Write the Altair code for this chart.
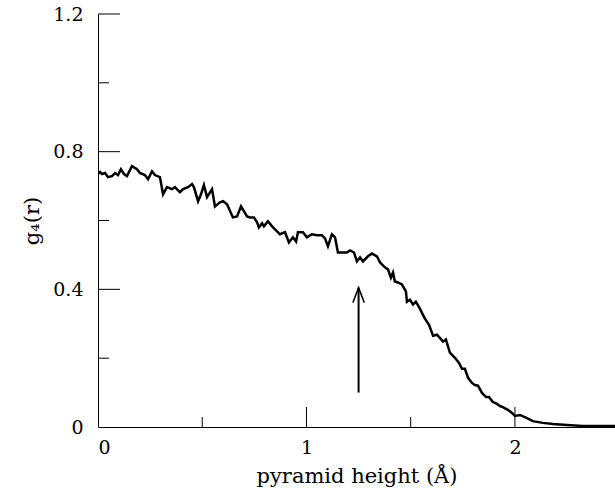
import altair as alt
import pandas as pd

# pyramid height (Å) and g4(r)
height_A = [0.000, 0.010, 0.019, 0.034, 0.048, 0.067, 0.082, 0.096, 0.110, 0.125,
            0.139, 0.163, 0.187, 0.201, 0.225, 0.240, 0.259, 0.273, 0.297, 0.312,
            0.331, 0.355, 0.369, 0.393, 0.408, 0.432, 0.451, 0.460, 0.480, 0.494,
            0.508, 0.523, 0.547, 0.561, 0.585, 0.600, 0.619, 0.647, 0.667, 0.686,
            0.715, 0.729, 0.748, 0.763, 0.772, 0.787, 0.796, 0.815, 0.835, 0.873,
            0.897, 0.916, 0.935, 0.950, 0.959, 0.983, 1.002, 1.026, 1.050, 1.074,
            1.089, 1.103, 1.122, 1.137, 1.151, 1.170, 1.194, 1.209, 1.228, 1.242,
            1.257, 1.271, 1.295, 1.314, 1.338, 1.353, 1.376, 1.391, 1.405, 1.415,
            1.424, 1.439, 1.458, 1.477, 1.482, 1.496, 1.511, 1.525, 1.544, 1.568,
            1.588, 1.607, 1.626, 1.640, 1.655, 1.669, 1.688, 1.712, 1.731, 1.746,
            1.760, 1.775, 1.794, 1.808, 1.823, 1.842, 1.861, 1.875, 1.894, 1.914,
            1.928, 1.942, 1.966, 1.986, 2.000, 2.024, 2.058, 2.086, 2.134, 2.182,
            2.249, 2.326, 2.408, 2.480]
g4 = [0.735, 0.741, 0.735, 0.738, 0.726, 0.729, 0.738, 0.732, 0.749, 0.735,
      0.729, 0.758, 0.749, 0.738, 0.732, 0.720, 0.743, 0.732, 0.726, 0.676,
      0.697, 0.691, 0.697, 0.682, 0.691, 0.697, 0.706, 0.697, 0.656, 0.676,
      0.703, 0.668, 0.691, 0.641, 0.653, 0.656, 0.647, 0.609, 0.612, 0.641,
      0.612, 0.609, 0.609, 0.595, 0.580, 0.592, 0.583, 0.598, 0.583, 0.560,
      0.566, 0.536, 0.551, 0.539, 0.566, 0.566, 0.551, 0.560, 0.557, 0.557,
      0.548, 0.525, 0.560, 0.551, 0.507, 0.507, 0.507, 0.513, 0.507, 0.481,
      0.493, 0.481, 0.496, 0.504, 0.496, 0.478, 0.464, 0.458, 0.434, 0.449,
      0.423, 0.420, 0.414, 0.394, 0.364, 0.370, 0.356, 0.364, 0.344, 0.315,
      0.297, 0.265, 0.268, 0.259, 0.248, 0.254, 0.216, 0.201, 0.187, 0.169,
      0.169, 0.143, 0.128, 0.122, 0.120, 0.099, 0.087, 0.087, 0.073, 0.067,
      0.061, 0.058, 0.050, 0.041, 0.032, 0.035, 0.026, 0.017, 0.012, 0.009,
      0.006, 0.003, 0.003, 0.003]

# arrow annotation
arrow_x = [1.25]
arrow_y0 = [0.10]
arrow_y1 = [0.405]

# tick positions / labels
x_labels = [0, 1, 2]
x_major = [1, 2]
x_minor = [0.5, 1.5]
y_labels = [0, 0.4, 0.8, 1.2]
y_major = [0.4, 0.8, 1.2]
y_minor = [0.2, 0.6, 1.0]

W, H = 517, 413
FONT = "DejaVu Serif"

df = pd.DataFrame({"h": height_A, "g": g4})
xs = alt.Scale(domain=[0, 2.48], nice=False, zero=False)
ys = alt.Scale(domain=[0, 1.2], nice=False)

line = alt.Chart(df).mark_line(color="black", strokeWidth=2.5, clip=True).encode(
    x=alt.X("h:Q", scale=xs,
            axis=alt.Axis(values=x_labels, format="d", ticks=False, grid=False,
                          domainColor="black", domainWidth=1, labelPadding=11,
                          labelFont=FONT, labelFontSize=19, labelColor="black",
                          title="pyramid height (Å)", titleFont=FONT, titleFontSize=21,
                          titleFontWeight="normal", titleColor="black", titlePadding=8)),
    y=alt.Y("g:Q", scale=ys,
            axis=alt.Axis(values=y_labels,
                          labelExpr="datum.value == 0 ? '0' : format(datum.value, '.1f')",
                          ticks=False, grid=False, domainColor="black",
                          domainWidth=1, labelPadding=15, labelFont=FONT,
                          labelFontSize=19, labelColor="black",
                          title="g₄(r)", titleFont=FONT, titleFontSize=21,
                          titleFontWeight="normal", titleColor="black", titlePadding=10)),
)

ymaj = alt.Chart(pd.DataFrame({"v": y_major})).mark_rule(color="black", strokeWidth=1).encode(
    y=alt.Y("v:Q", scale=ys), x=alt.value(0), x2=alt.value(22))
ymin = alt.Chart(pd.DataFrame({"v": y_minor})).mark_rule(color="black", strokeWidth=1).encode(
    y=alt.Y("v:Q", scale=ys), x=alt.value(0), x2=alt.value(11))
xmaj = alt.Chart(pd.DataFrame({"v": x_major})).mark_rule(color="black", strokeWidth=1).encode(
    x=alt.X("v:Q", scale=xs), y=alt.value(H), y2=alt.value(H - 20))
xmin = alt.Chart(pd.DataFrame({"v": x_minor})).mark_rule(color="black", strokeWidth=1).encode(
    x=alt.X("v:Q", scale=xs), y=alt.value(H), y2=alt.value(H - 10))

adf = pd.DataFrame({"x": arrow_x, "y0": arrow_y0, "y1": arrow_y1})
shaft = alt.Chart(adf).mark_rule(color="black", strokeWidth=2).encode(
    x=alt.X("x:Q", scale=xs), y=alt.Y("y0:Q", scale=ys), y2="y1:Q")
head = alt.Chart(adf).mark_point(shape="M-0.38,1L0,0L0.38,1", filled=False, color="black",
                                 strokeWidth=1.5, size=900, opacity=1).encode(
    x=alt.X("x:Q", scale=xs), y=alt.Y("y1:Q", scale=ys))

chart = alt.layer(line, ymaj, ymin, xmaj, xmin, shaft, head).properties(
    width=W, height=H,
    autosize=alt.AutoSizeParams(type="none"),
    padding={"left": 98, "top": 14, "right": 0, "bottom": 64},
    background="white",
).configure_view(stroke=None)

chart.save("out.html", embed_options={"renderer": "svg", "actions": False})
